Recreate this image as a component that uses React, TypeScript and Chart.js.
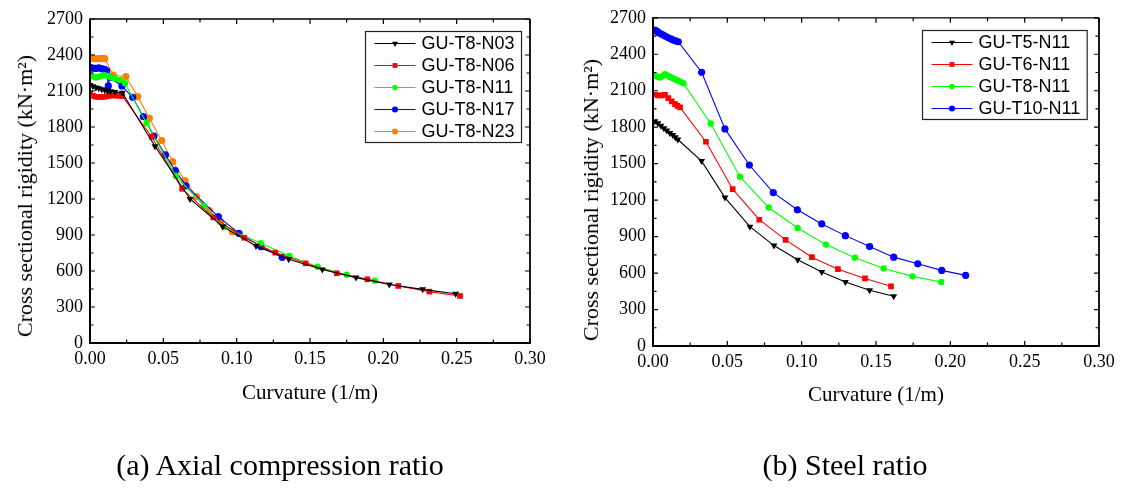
import React, { useEffect, useRef } from 'react';
import { Chart, registerables } from 'chart.js';

Chart.register(...registerables);

const SERIF = '"Liberation Serif", "Times New Roman", serif';
const SANS = '"Liberation Sans", Arial, sans-serif';

// ---------- tick definitions ----------
const xTickValues = [0, 0.05, 0.1, 0.15, 0.2, 0.25, 0.3];
const xTickLabels = ['0.00', '0.05', '0.10', '0.15', '0.20', '0.25', '0.30'];
const yTickValues = [0, 300, 600, 900, 1200, 1500, 1800, 2100, 2400, 2700];
const yTickLabels = ['0', '300', '600', '900', '1200', '1500', '1800', '2100', '2400', '2700'];

// ---------- (a) axial compression ratio ----------
const n03X = [0, 0.002, 0.004, 0.006, 0.008, 0.010, 0.012, 0.014, 0.017, 0.022, 0.0443, 0.0682, 0.0905, 0.1132, 0.1355, 0.1584, 0.1814, 0.2041, 0.2268, 0.2493];
const n03Y = [2150, 2140, 2130, 2122, 2115, 2108, 2102, 2098, 2092, 2085, 1640, 1200, 970, 808, 698, 612, 545, 488, 447, 410];

const n06X = [0, 0.002, 0.004, 0.006, 0.008, 0.010, 0.012, 0.014, 0.016, 0.018, 0.020, 0.022, 0.042, 0.0628, 0.0841, 0.1052, 0.1264, 0.147, 0.1682, 0.1891, 0.2102, 0.2314, 0.2523];
const n06Y = [2080, 2060, 2052, 2050, 2050, 2052, 2058, 2062, 2063, 2062, 2060, 2058, 1719, 1285, 1047, 877, 753, 664, 581, 531, 475, 428, 392];

const n11X = [0, 0.002, 0.004, 0.006, 0.008, 0.010, 0.012, 0.014, 0.017, 0.0205, 0.0239, 0.0386, 0.0586, 0.0777, 0.0914, 0.1164, 0.136, 0.1552, 0.175, 0.1943];
const n11Y = [2233, 2222, 2212, 2218, 2228, 2232, 2225, 2215, 2205, 2192, 2164, 1831, 1392, 1142, 969, 831, 725, 636, 569, 519];

const n17X = [0, 0.002, 0.004, 0.006, 0.008, 0.010, 0.0114, 0.0125, 0.0136, 0.0218, 0.0291, 0.0364, 0.0436, 0.0514, 0.0582, 0.0655, 0.0875, 0.1016, 0.1166, 0.131];
const n17Y = [2297, 2290, 2288, 2292, 2286, 2280, 2268, 2142, 2214, 2142, 2047, 1886, 1725, 1567, 1436, 1310, 1053, 914, 803, 714];

const n23X = [0, 0.002, 0.004, 0.006, 0.008, 0.010, 0.0159, 0.0245, 0.0325, 0.0405, 0.0489, 0.0564, 0.0648, 0.0727, 0.0814, 0.089, 0.097];
const n23Y = [2381, 2372, 2368, 2370, 2372, 2370, 2233, 2219, 2053, 1872, 1686, 1511, 1353, 1219, 1103, 1011, 928];

// ---------- (b) steel ratio ----------
const t5X = [0.0013, 0.0033, 0.0053, 0.0073, 0.0093, 0.0113, 0.0133, 0.015, 0.0167, 0.0327, 0.0484, 0.0652, 0.0814, 0.0973, 0.1135, 0.1294, 0.1457, 0.1619];
const t5Y = [1849, 1832, 1812, 1792, 1772, 1752, 1735, 1718, 1699, 1521, 1221, 982, 826, 709, 608, 526, 458, 409];

const t6X = [0.0013, 0.0035, 0.0058, 0.0081, 0.0103, 0.0126, 0.0148, 0.0165, 0.0182, 0.0356, 0.0536, 0.0715, 0.0892, 0.1069, 0.1244, 0.1426, 0.1601];
const t6Y = [2067, 2062, 2062, 2067, 2039, 2012, 1990, 1975, 1963, 1680, 1290, 1039, 873, 731, 632, 556, 491];

const t8X = [0.0013, 0.003, 0.0047, 0.0064, 0.0081, 0.0098, 0.0114, 0.0131, 0.0148, 0.0165, 0.0182, 0.0204, 0.0388, 0.0585, 0.0778, 0.0973, 0.1163, 0.1358, 0.1551, 0.1746, 0.1939];
const t8Y = [2225, 2215, 2209, 2222, 2236, 2225, 2214, 2205, 2195, 2185, 2176, 2162, 1830, 1393, 1139, 971, 834, 726, 638, 573, 526];

const t10X = [0.0013, 0.0025, 0.0036, 0.0053, 0.007, 0.0087, 0.0103, 0.012, 0.0137, 0.0153, 0.017, 0.0327, 0.0484, 0.0648, 0.0809, 0.0971, 0.1135, 0.1294, 0.1457, 0.1619, 0.1781, 0.1942, 0.2103];
const t10Y = [2599, 2590, 2580, 2568, 2558, 2546, 2536, 2526, 2517, 2510, 2503, 2252, 1786, 1489, 1262, 1121, 1004, 908, 818, 731, 676, 622, 581];

type Series = { label: string; xs: number[]; ys: number[]; color: string; shape: string; rot: number; r: number };

const seriesA: Series[] = [
  { label: 'GU-T8-N03', xs: n03X, ys: n03Y, color: '#000000', shape: 'triangle', rot: 180, r: 4 },
  { label: 'GU-T8-N06', xs: n06X, ys: n06Y, color: '#ff0000', shape: 'rect', rot: 0, r: 4 },
  { label: 'GU-T8-N11', xs: n11X, ys: n11Y, color: '#00ff00', shape: 'circle', rot: 0, r: 3.2 },
  { label: 'GU-T8-N17', xs: n17X, ys: n17Y, color: '#0000ff', shape: 'circle', rot: 0, r: 3.6 },
  { label: 'GU-T8-N23', xs: n23X, ys: n23Y, color: '#ff8000', shape: 'circle', rot: 0, r: 3.6 },
];

const seriesB: Series[] = [
  { label: 'GU-T5-N11', xs: t5X, ys: t5Y, color: '#000000', shape: 'triangle', rot: 180, r: 4 },
  { label: 'GU-T6-N11', xs: t6X, ys: t6Y, color: '#ff0000', shape: 'rect', rot: 0, r: 4 },
  { label: 'GU-T8-N11', xs: t8X, ys: t8Y, color: '#00ff00', shape: 'circle', rot: 0, r: 3.2 },
  { label: 'GU-T10-N11', xs: t10X, ys: t10Y, color: '#0000ff', shape: 'circle', rot: 0, r: 3.6 },
];

function drawMarker(ctx: CanvasRenderingContext2D, shape: string, x: number, y: number, r: number, color: string) {
  ctx.fillStyle = color;
  ctx.beginPath();
  if (shape === 'triangle') {
    ctx.moveTo(x - r * 0.866, y - r * 0.5);
    ctx.lineTo(x + r * 0.866, y - r * 0.5);
    ctx.lineTo(x, y + r);
    ctx.closePath();
  } else if (shape === 'rect') {
    const s = r * Math.SQRT1_2;
    ctx.rect(x - s, y - s, 2 * s, 2 * s);
  } else {
    ctx.arc(x, y, r, 0, Math.PI * 2);
  }
  ctx.fill();
}

const framePlugin = {
  id: 'originFrame',
  afterDraw(chart: any) {
    const ctx: CanvasRenderingContext2D = chart.ctx;
    const { left, right, top, bottom } = chart.chartArea;
    const xs = chart.scales.x;
    const ys = chart.scales.y;
    ctx.save();
    ctx.strokeStyle = '#000';
    // top & right
    ctx.lineWidth = 1.3;
    ctx.beginPath();
    ctx.moveTo(left, top);
    ctx.lineTo(right, top);
    ctx.stroke();
    ctx.lineWidth = 1.8;
    ctx.beginPath();
    ctx.moveTo(right, top);
    ctx.lineTo(right, bottom);
    ctx.stroke();
    // left & bottom
    ctx.lineWidth = 2;
    ctx.beginPath();
    ctx.moveTo(left, top - 0.6);
    ctx.lineTo(left, bottom);
    ctx.lineTo(right + 0.9, bottom);
    ctx.stroke();

    const major = 5;
    const minor = 3.5;
    ctx.lineWidth = 1.2;
    ctx.beginPath();
    for (let i = 0; i < xTickValues.length; i++) {
      const v = xTickValues[i];
      const px = xs.getPixelForValue(v);
      ctx.moveTo(px, bottom);
      ctx.lineTo(px, bottom - major);
      ctx.moveTo(px, top);
      ctx.lineTo(px, top + major);
      if (i < xTickValues.length - 1) {
        const m = xs.getPixelForValue((v + xTickValues[i + 1]) / 2);
        ctx.moveTo(m, bottom);
        ctx.lineTo(m, bottom - minor);
        ctx.moveTo(m, top);
        ctx.lineTo(m, top + minor);
      }
    }
    for (let i = 0; i < yTickValues.length; i++) {
      const v = yTickValues[i];
      const py = ys.getPixelForValue(v);
      ctx.moveTo(left, py);
      ctx.lineTo(left + major, py);
      ctx.moveTo(right, py);
      ctx.lineTo(right - major, py);
      if (i < yTickValues.length - 1) {
        const m = ys.getPixelForValue((v + yTickValues[i + 1]) / 2);
        ctx.moveTo(left, m);
        ctx.lineTo(left + minor, m);
        ctx.moveTo(right, m);
        ctx.lineTo(right - minor, m);
      }
    }
    ctx.stroke();
    ctx.restore();
  },
};

const legendPlugin = {
  id: 'boxLegend',
  afterDraw(chart: any, _args: any, opts: any) {
    const ctx: CanvasRenderingContext2D = chart.ctx;
    const ca = chart.chartArea;
    const sers: Series[] = opts.series;
    ctx.save();
    ctx.font = `18px ${SANS}`;
    const textW = Math.max(...sers.map((s) => ctx.measureText(s.label).width));
    const w = opts.padL + opts.lineLen + opts.gap + textW + opts.padR;
    const h = opts.padT + (sers.length - 1) * opts.row + opts.padB;
    const x0 = Math.round(ca.right - opts.right - w) + 0.5;
    const y0 = Math.round(ca.top + opts.top) + 0.5;
    ctx.fillStyle = '#fff';
    ctx.fillRect(x0, y0, w, h);
    ctx.strokeStyle = '#222';
    ctx.lineWidth = 1.2;
    ctx.strokeRect(x0, y0, w, h);
    sers.forEach((s, i) => {
      const cy = y0 + opts.padT + i * opts.row;
      const lx = x0 + opts.padL;
      ctx.strokeStyle = s.color;
      ctx.lineWidth = 1.2;
      ctx.beginPath();
      ctx.moveTo(lx, cy);
      ctx.lineTo(lx + opts.lineLen, cy);
      ctx.stroke();
      drawMarker(ctx, s.shape, lx + opts.lineLen / 2, cy, s.r * 0.85, s.color);
      ctx.fillStyle = '#000';
      ctx.textBaseline = 'middle';
      ctx.textAlign = 'left';
      ctx.fillText(s.label, lx + opts.lineLen + opts.gap, cy + 1);
    });
    ctx.restore();
  },
};

function buildConfig(series: Series[], lay: { padRight: number; padTop: number; yW: number; xH: number }, legendRight: number): any {
  return {
    type: 'line',
    data: {
      datasets: series.map((s) => ({
        label: s.label,
        data: s.xs.map((x, i) => ({ x, y: s.ys[i] })),
        borderColor: s.color,
        backgroundColor: s.color,
        borderWidth: 1.1,
        pointStyle: s.shape,
        pointRotation: s.rot,
        pointRadius: s.r,
        pointBorderWidth: 0,
        pointBackgroundColor: s.color,
        tension: 0,
        fill: false,
      })),
    },
    plugins: [framePlugin, legendPlugin],
    options: {
      animation: false,
      responsive: false,
      events: [],
      layout: { padding: { left: 0, right: lay.padRight, top: lay.padTop, bottom: 0 } },
      plugins: {
        legend: { display: false },
        tooltip: { enabled: false },
        boxLegend: {
          series,
          right: legendRight,
          top: 12,
          padL: 9,
          lineLen: 41,
          gap: 6,
          padR: 7,
          padT: 12,
          padB: 11,
          row: 22,
        },
      },
      scales: {
        x: {
          type: 'linear',
          min: 0,
          max: 0.3,
          afterFit: (sc: any) => {
            sc.height = lay.xH;
          },
          afterBuildTicks: (sc: any) => {
            sc.ticks = xTickValues.map((v) => ({ value: v }));
          },
          grid: { display: false, drawTicks: false },
          border: { display: false },
          ticks: {
            autoSkip: false,
            maxRotation: 0,
            padding: 5,
            color: '#000',
            font: { family: SERIF, size: 18 },
            callback: (v: number) => xTickLabels[xTickValues.findIndex((t) => Math.abs(t - v) < 1e-9)],
          },
        },
        y: {
          type: 'linear',
          min: 0,
          max: 2700,
          afterFit: (sc: any) => {
            sc.width = lay.yW;
          },
          afterBuildTicks: (sc: any) => {
            sc.ticks = yTickValues.map((v) => ({ value: v }));
          },
          grid: { display: false, drawTicks: false },
          border: { display: false },
          ticks: {
            autoSkip: false,
            padding: 7,
            color: '#000',
            font: { family: SERIF, size: 18 },
            callback: (v: number) => yTickLabels[yTickValues.indexOf(v)],
          },
        },
      },
    },
  };
}

function Panel(props: { series: Series[]; left: number; width: number; lay: any; legendRight: number }) {
  const ref = useRef<HTMLCanvasElement>(null);
  useEffect(() => {
    const chart = new Chart(ref.current as HTMLCanvasElement, buildConfig(props.series, props.lay, props.legendRight));
    return () => chart.destroy();
  }, []);
  return (
    <canvas
      ref={ref}
      width={props.width}
      height={494}
      style={{ position: 'absolute', left: props.left, top: 0, width: props.width, height: 494 }}
    />
  );
}

const txt = (size: number, cx: number, cy: number, rotate = false): React.CSSProperties => ({
  position: 'absolute',
  left: cx,
  top: cy,
  fontFamily: SERIF,
  fontSize: size,
  lineHeight: `${size}px`,
  whiteSpace: 'nowrap',
  color: '#000',
  transform: rotate ? 'translate(-50%, -50%) rotate(-90deg)' : 'translate(-50%, -50%)',
});

const yTitle = 'Cross sectional rigidity (kN·m²)';
const xTitle = 'Curvature (1/m)';

export default function App() {
  return (
    <div style={{ position: 'absolute', left: 0, top: 0, width: 1121, height: 494, background: '#fff', overflow: 'hidden' }}>
      <Panel series={seriesA} left={0} width={560} lay={{ padRight: 30, padTop: 19, yW: 90, xH: 151 }} legendRight={9} />
      <Panel series={seriesB} left={560} width={561} lay={{ padRight: 22, padTop: 16, yW: 93, xH: 148 }} legendRight={12} />
      <div style={txt(22, 25, 196, true)}>{yTitle}</div>
      <div style={txt(22, 591, 200, true)}>{yTitle}</div>
      <div style={txt(21, 310, 392)}>{xTitle}</div>
      <div style={txt(21, 876, 394)}>{xTitle}</div>
      <div style={txt(30, 280, 465)}>(a) Axial compression ratio</div>
      <div style={txt(30, 845, 465)}>(b) Steel ratio</div>
    </div>
  );
}
